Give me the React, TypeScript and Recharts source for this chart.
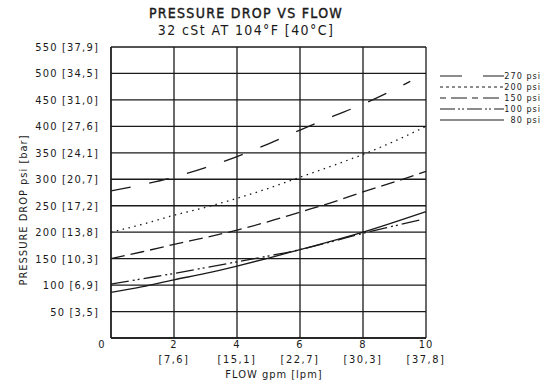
import { LineChart, Line, XAxis, YAxis, CartesianGrid } from 'recharts';

// flow in gpm, pressure drop in psi
const flowGpm = [0, 1, 2, 3, 4, 5, 6, 7, 8, 9, 10];
const flow270 = [0, 1, 2, 3, 4, 5, 6, 7, 8, 9, 9.5];
const flow100 = [0, 1, 2, 3, 4, 5, 6, 7, 8, 9, 9.8];

const p270 = [278, 290, 304, 322, 343, 367, 393, 418, 442, 470, 485];
const p200 = [200, 215, 232, 247, 264, 283, 304, 325, 347, 372, 400];
const p150 = [150, 163, 177, 190, 204, 220, 238, 256, 276, 295, 315];
const p100 = [102, 112, 122, 133, 144, 155, 167, 182, 198, 212, 223];
const p80 = [86, 97, 110, 122, 136, 151, 167, 183, 200, 219, 239];

const xTicks = [0, 2, 4, 6, 8, 10];
const lpmLabels = ['', '7,6', '15,1', '22,7', '30,3', '37,8'];
const yTicks = [0, 50, 100, 150, 200, 250, 300, 350, 400, 450, 500, 550];
const barLabels = ['', '3,5', '6,9', '10,3', '13,8', '17,2', '20,7', '24,1', '27,6', '31,0', '34,5', '37,9'];

const FONT = '"DejaVu Sans Condensed", "DejaVu Sans", sans-serif';
const INK = '#1a1a1a';

const toPoints = (xs: number[], ys: number[]) => xs.map((x, i) => ({ flow: x, p: ys[i] }));

const series = [
  { name: '270 psi', data: toPoints(flow270, p270), dash: '20 19', legendDash: '22 21' },
  { name: '200 psi', data: toPoints(flowGpm, p200), dash: '1.5 4.5', legendDash: '3 3' },
  { name: '150 psi', data: toPoints(flowGpm, p150), dash: '14 6', legendDash: '6 5 16 5' },
  { name: '100 psi', data: toPoints(flow100, p100), dash: '18 4 2 3 2 4', legendDash: '15 3 2 2 2 3' },
  { name: '80 psi', data: toPoints(flowGpm, p80), dash: undefined, legendDash: undefined },
];

const XTick = ({ x, y, payload }: any) => {
  const i = xTicks.indexOf(payload.value);
  if (payload.value === 0) {
    return (
      <text x={x - 9} y={y + 10} textAnchor="middle" fontSize={11} fontFamily={FONT} letterSpacing={1} fill={INK}>
        0
      </text>
    );
  }
  return (
    <g>
      <text x={x} y={y + 10} textAnchor="middle" fontSize={11} fontFamily={FONT} letterSpacing={1} fill={INK}>
        {payload.value}
      </text>
      <text x={x} y={y + 25} textAnchor="middle" fontSize={11} fontFamily={FONT} letterSpacing={1.5} fill={INK}>
        {`[${lpmLabels[i]}]`}
      </text>
    </g>
  );
};

const YTick = ({ x, y, payload }: any) => {
  const i = yTicks.indexOf(payload.value);
  if (payload.value === 0) return null;
  return (
    <text x={x} y={y} dy={4} textAnchor="end" fontSize={11} fontFamily={FONT} letterSpacing={1.2} fill={INK}>
      {`${payload.value} [${barLabels[i]}]`}
    </text>
  );
};

export default function App() {
  return (
    <div style={{ position: 'relative', width: 549, height: 387, background: '#fff' }}>
      <style>{'body{margin:0}'}</style>
      <LineChart width={549} height={387} margin={{ top: 47, right: 123, bottom: 0, left: 0 }}>
        <CartesianGrid stroke={INK} strokeWidth={1.3} />
        <XAxis
          type="number"
          dataKey="flow"
          domain={[0, 10]}
          ticks={xTicks}
          height={49}
          tick={<XTick />}
          tickLine={false}
          tickSize={0}
          tickMargin={0}
          axisLine={{ stroke: INK, strokeWidth: 1.3 }}
          allowDuplicatedCategory={false}
        />
        <YAxis
          type="number"
          dataKey="p"
          domain={[0, 550]}
          ticks={yTicks}
          width={111}
          tick={<YTick />}
          tickLine={false}
          tickSize={0}
          tickMargin={12}
          axisLine={{ stroke: INK, strokeWidth: 1.3 }}
        />
        {series.map((s) => (
          <Line
            key={s.name}
            data={s.data}
            dataKey="p"
            name={s.name}
            type="monotone"
            stroke={INK}
            strokeWidth={1.3}
            strokeDasharray={s.dash}
            dot={false}
            activeDot={false}
            isAnimationActive={false}
          />
        ))}
      </LineChart>
      <svg
        width={549}
        height={387}
        style={{ position: 'absolute', left: 0, top: 0, pointerEvents: 'none' }}
      >
        <text
          x={246}
          y={18}
          textAnchor="middle"
          fontSize={14}
          fontFamily={FONT}
          letterSpacing={1.3}
          fill={INK}
          stroke={INK}
          strokeWidth={0.4}
        >
          PRESSURE DROP VS FLOW
        </text>
        <text x={246} y={35} textAnchor="middle" fontSize={14} fontFamily={FONT} letterSpacing={1.4} fill={INK}>
          32 cSt AT 104°F [40°C]
        </text>
        <text
          transform="translate(27,210) rotate(-90)"
          textAnchor="middle"
          fontSize={11}
          fontFamily={FONT}
          letterSpacing={1}
          fill={INK}
        >
          PRESSURE DROP psi [bar]
        </text>
        <text x={274} y={378} textAnchor="middle" fontSize={11} fontFamily={FONT} letterSpacing={1} fill={INK}>
          FLOW gpm [lpm]
        </text>
        {series.map((s, i) => {
          const y = 76 + i * 11;
          return (
            <g key={s.name}>
              <line x1={440} x2={504} y1={y} y2={y} stroke={INK} strokeWidth={1.2} strokeDasharray={s.legendDash} />
              <text x={541} y={y + 3} textAnchor="end" fontSize={9} fontFamily={FONT} letterSpacing={1} fill={INK}>
                {s.name}
              </text>
            </g>
          );
        })}
      </svg>
    </div>
  );
}
